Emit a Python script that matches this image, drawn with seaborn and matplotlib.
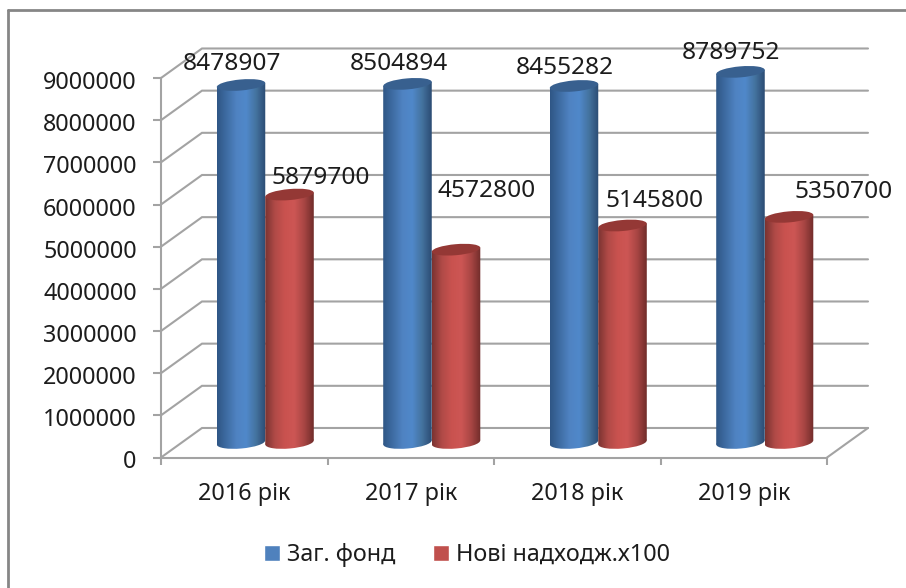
import numpy as np
import pandas as pd
import seaborn as sns
import matplotlib
matplotlib.use("Agg")
import matplotlib.pyplot as plt
from matplotlib.colors import LinearSegmentedColormap
from matplotlib.lines import Line2D
from matplotlib.patches import Ellipse, Polygon
from matplotlib.transforms import IdentityTransform, ScaledTranslation

# data
years = ["2016 рік", "2017 рік", "2018 рік", "2019 рік"]
series_names = ["Заг. фонд", "Нові надходж.х100"]
total_fund = [8478907, 8504894, 8455282, 8789752]
new_items = [5879700, 4572800, 5145800, 5350700]
y_ticks = list(range(0, 9000001, 1000000))

# label offsets from the top of each cylinder, in pixels
blue_offsets = [(-9, 21), (-9, 20), (-9, 18), (-10, 19)]
red_offsets = [(31, 17), (31, 59), (32, 25), (55, 25)]

df = pd.DataFrame({
    "year": years * 2,
    "series": [series_names[0]] * 4 + [series_names[1]] * 4,
    "value": total_fund + new_items,
})

sns.set_theme(style="white")
plt.rcParams["font.family"] = ["Noto Sans", "DejaVu Sans"]
FS = 16.8
GRID = "#a3a3a3"
TEXT = "#1c1c1c"
TILT = 5

W, H = 906, 588
fig = plt.figure(figsize=(W / 100, H / 100), dpi=100, facecolor="white")


def px_rect(left, right, top, bottom):
    return [left / W, 1 - bottom / H, (right - left) / W, (bottom - top) / H]


# ----- front plane: axis, ticks and the skewed grid
ax = fig.add_axes(px_rect(161, 827, 78, 457.5))
ax.set_xlim(-0.5, 3.5)
ax.set_ylim(0, 9000000)
ax.patch.set_alpha(0)
sns.despine(ax=ax, top=True, right=True)
for side in ["left", "bottom"]:
    ax.spines[side].set_color(GRID)
    ax.spines[side].set_linewidth(1.5)
ax.set_yticks(y_ticks)
ax.set_yticklabels([str(t) for t in y_ticks], fontsize=FS, color=TEXT)
ax.set_xticks([-0.5, 0.5, 1.5, 2.5, 3.5])
ax.set_xticklabels([])
ax.set_xticks([0, 1, 2, 3], minor=True)
ax.set_xticklabels(years, minor=True, fontsize=FS, color=TEXT)
ax.tick_params(axis="y", which="major", left=True, length=5.5, width=1.5, color=GRID, pad=12)
ax.tick_params(axis="x", which="major", bottom=True, length=5, width=1.5, color=GRID)
ax.tick_params(axis="x", which="minor", bottom=False, pad=13.5)

# nudge the value labels down a little
nudge = ScaledTranslation(0, -2 / 100, fig.dpi_scale_trans)
for lab in ax.get_yticklabels():
    lab.set_transform(lab.get_transform() + nudge)

depth_x = 41 / 166.5
depth_y = 700000
for t in y_ticks:
    ax.plot([-0.5, -0.5 + depth_x, 3.5 + depth_x], [t, t + depth_y, t + depth_y],
            color=GRID, lw=1.5, clip_on=False, zorder=1, solid_joinstyle="miter")
ax.plot([3.5, 3.5 + depth_x], [0, depth_y], color=GRID, lw=1.5, clip_on=False, zorder=1)

# ----- middle plane: the cylinders
ax_bars = fig.add_axes(px_rect(182, 848, 63, 442.5))
sns.barplot(data=df, x="year", y="value", hue="series", saturation=1,
            palette=["#4f81bd", "#c0504d"], width=0.583, gap=0, ax=ax_bars)
ax_bars.set_xlim(-0.5, 3.5)
ax_bars.set_ylim(0, 9000000)
ax_bars.set_axis_off()

blue_map = LinearSegmentedColormap.from_list(
    "blue_cyl", ["#2f5685", "#3f6da4", "#4f83c2", "#5088ca", "#44739f", "#2b4b73"])
red_map = LinearSegmentedColormap.from_list(
    "red_cyl", ["#7a3331", "#b04a47", "#c9524f", "#cd5654", "#a94644", "#702c2a"])
gradient = np.linspace(0, 1, 128).reshape(1, -1)
styles = [(blue_map, "#38608f"), (red_map, "#943835")]
offsets = [blue_offsets, red_offsets]

for s, bars in enumerate(ax_bars.containers):
    cmap, cap_color = styles[s]
    for b, bar in enumerate(bars):
        x0, x1 = bar.get_x(), bar.get_x() + bar.get_width()
        top = bar.get_height()
        z = 3 + s
        bar.set_visible(False)
        cx, cy_top = ax_bars.transData.transform(((x0 + x1) / 2, top))
        cx, cy_base = ax_bars.transData.transform(((x0 + x1) / 2, 0))
        pw = ax_bars.transData.transform((x1, 0))[0] - ax_bars.transData.transform((x0, 0))[0]
        rise = pw / 2 * np.sin(np.radians(TILT))

        # body, cut along the tilted ends
        body = Polygon([(cx - pw / 2, cy_base - rise), (cx + pw / 2, cy_base + rise),
                        (cx + pw / 2, cy_top + rise), (cx - pw / 2, cy_top - rise)],
                       transform=IdentityTransform(), fc="none", ec="none", clip_on=False)
        ax_bars.add_patch(body)
        im = ax_bars.imshow(gradient, cmap=cmap, aspect="auto",
                            extent=[x0, x1, -200000, top + 200000], zorder=z,
                            interpolation="bilinear")
        im.set_clip_box(fig.bbox)
        im.set_clip_path(body)

        # rounded base, same gradient
        base = Ellipse((cx, cy_base), pw, 12, angle=TILT, transform=IdentityTransform(),
                       fc="none", ec="none", clip_on=False)
        ax_bars.add_patch(base)
        im = ax_bars.imshow(gradient, cmap=cmap, aspect="auto",
                            extent=[x0, x1, -200000, 200000], zorder=z,
                            interpolation="bilinear")
        im.set_clip_box(fig.bbox)
        im.set_clip_path(base)

        # top cap
        cap = Ellipse((cx, cy_top), pw, 11, angle=TILT, transform=IdentityTransform(),
                      fc=cap_color, ec="none", zorder=z + 0.5, clip_on=False)
        ax_bars.add_patch(cap)
        ax_bars.annotate(str(int(top)), ((x0 + x1) / 2, top),
                         xytext=offsets[s][b], textcoords="offset pixels",
                         ha="center", va="center", fontsize=17.6, color=TEXT,
                         zorder=10, annotation_clip=False)

ax_bars.set_xlim(-0.5, 3.5)
ax_bars.set_ylim(0, 9000000)

sns.move_legend(ax_bars, "center", bbox_to_anchor=(467 / W, 1 - 555 / H),
                bbox_transform=fig.transFigure, ncol=2, frameon=False, title=None,
                fontsize=FS, labelcolor=TEXT, handlelength=0.7, handleheight=0.7,
                handletextpad=0.3, columnspacing=1.6)

# ----- chart border, runs off the right and bottom of the image
for xs, ys in [([8, 8], [10, 588]), ([8, 906], [10, 10])]:
    fig.add_artist(Line2D([x / W for x in xs], [1 - y / H for y in ys],
                          color="#868686", lw=2.0, transform=fig.transFigure))

fig.savefig("out.png", dpi=100)
